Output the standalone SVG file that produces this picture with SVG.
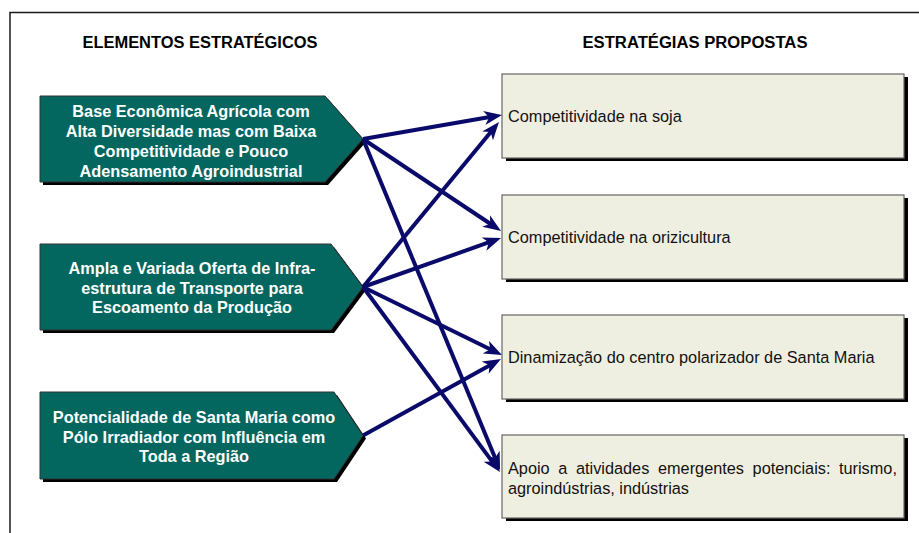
<svg xmlns="http://www.w3.org/2000/svg" width="919" height="533" viewBox="0 0 919 533">
<defs>
<style>
.frame{fill:none;stroke:#1a1a1a;stroke-width:1.5}
.title{font-family:"Liberation Sans",Arial,sans-serif;font-weight:bold;font-size:16px;fill:#000;text-anchor:middle}
.nshadow{fill:#000}
.node{fill:#03665F;stroke:#333;stroke-width:1}
.ntext{font-family:"Liberation Sans",Arial,sans-serif;font-weight:bold;font-size:16.3px;fill:#fff;text-anchor:middle}
.box{fill:#EFEFE1;stroke:#666;stroke-width:1.2}
.btext{font-family:"Liberation Sans",Arial,sans-serif;font-size:16.3px;fill:#111}
.conn{stroke:#0A0A6A;stroke-width:4;fill:none;marker-end:url(#ah)}
</style>
<marker id="ah" viewBox="0 0 18 14" refX="10" refY="7" markerWidth="18" markerHeight="14" markerUnits="userSpaceOnUse" orient="auto">
<path d="M18,7 L0,0 L5,7 L0,14 Z" fill="#0A0A6A"/>
</marker>
</defs>
<rect width="919" height="533" fill="#fff"/>
<path class="frame" d="M10,533 L10,12.5 L919,12.5"/>
<text class="title" x="200" y="48" textLength="235" lengthAdjust="spacingAndGlyphs">ELEMENTOS ESTRATÉGICOS</text>
<text class="title" x="695" y="48" textLength="225" lengthAdjust="spacingAndGlyphs">ESTRATÉGIAS PROPOSTAS</text>

<g id="node-base">
<polygon class="nshadow" points="43,99 328,99 366,142 328,185 43,185"/>
<polygon class="node" points="40,96 325,96 363,139 325,182 40,182"/>
<text class="ntext"><tspan x="191" y="117">Base Econômica Agrícola com</tspan><tspan x="191" y="137">Alta Diversidade mas com Baixa</tspan><tspan x="191" y="157">Competitividade e Pouco</tspan><tspan x="191" y="177">Adensamento Agroindustrial</tspan></text>
</g>
<g id="node-ampla">
<polygon class="nshadow" points="43,247 334,247 366,290 334,333 43,333"/>
<polygon class="node" points="40,244 331,244 363,287 331,330 40,330"/>
<text class="ntext"><tspan x="192" y="274">Ampla e Variada Oferta de Infra-</tspan><tspan x="192" y="294">estrutura de Transporte para</tspan><tspan x="192" y="313">Escoamento da Produção</tspan></text>
</g>
<g id="node-potencialidade">
<polygon class="nshadow" points="43,395 337,395 366,438.5 337,482 43,482"/>
<polygon class="node" points="40,392 334,392 363,435.5 334,479 40,479"/>
<text class="ntext"><tspan x="194" y="423">Potencialidade de Santa Maria como</tspan><tspan x="194" y="443">Pólo Irradiador com Influência em</tspan><tspan x="194" y="462">Toda a Região</tspan></text>
</g>

<g id="box-soja">
<rect x="506" y="77" width="402" height="84" fill="#000"/>
<rect class="box" x="502" y="74" width="402" height="84"/>
<text class="btext" x="508" y="122">Competitividade na soja</text>
</g>
<g id="box-orizicultura">
<rect x="506" y="198" width="402" height="84" fill="#000"/>
<rect class="box" x="502" y="195" width="402" height="84"/>
<text class="btext" x="508" y="243">Competitividade na orizicultura</text>
</g>
<g id="box-dinamizacao">
<rect x="506" y="318" width="402" height="84" fill="#000"/>
<rect class="box" x="502" y="315" width="402" height="84"/>
<text class="btext" x="508" y="363">Dinamização do centro polarizador de Santa Maria</text>
</g>
<g id="box-apoio">
<rect x="506" y="438" width="402" height="83" fill="#000"/>
<rect class="box" x="502" y="435" width="402" height="83"/>
<text class="btext"><tspan x="508" y="474">Apoio</tspan><tspan x="558.3" y="474">a</tspan><tspan x="576" y="474">atividades</tspan><tspan x="658" y="474">emergentes</tspan><tspan x="752.6" y="474">potenciais:</tspan><tspan x="839" y="474">turismo,</tspan><tspan x="508" y="494">agroindústrias, indústrias</tspan></text>
</g>

<g id="connectors">
<line class="conn" x1="363" y1="139" x2="494.1" y2="116.3"/>
<line class="conn" x1="363" y1="139" x2="494.4" y2="226.5"/>
<line class="conn" x1="363" y1="139" x2="497" y2="462.6"/>
<line class="conn" x1="363" y1="287" x2="493.9" y2="128.2"/>
<line class="conn" x1="363" y1="287" x2="493.5" y2="240.7"/>
<line class="conn" x1="363" y1="287" x2="494.8" y2="351.5"/>
<line class="conn" x1="363" y1="287" x2="495.2" y2="465.6"/>
<line class="conn" x1="363" y1="435.5" x2="494" y2="362.9"/>
</g>
</svg>
